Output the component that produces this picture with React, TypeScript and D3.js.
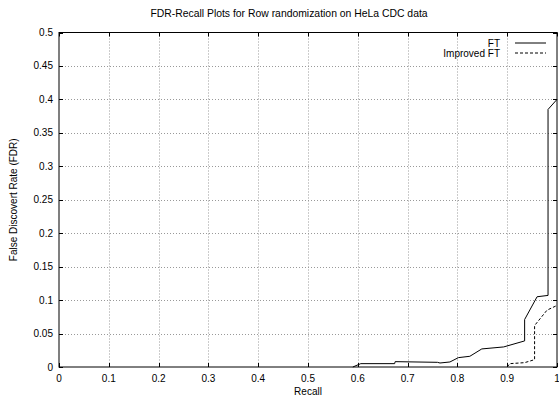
import React from "react";
import * as d3 from "d3";

const title = "FDR-Recall Plots for Row randomization on HeLa CDC data";
const xLabel = "Recall";
const yLabel = "False Discovert Rate (FDR)";

const xTicks = [0, 0.1, 0.2, 0.3, 0.4, 0.5, 0.6, 0.7, 0.8, 0.9, 1];
const xTickLabels = ["0", "0.1", "0.2", "0.3", "0.4", "0.5", "0.6", "0.7", "0.8", "0.9", "1"];
const yTicks = [0, 0.05, 0.1, 0.15, 0.2, 0.25, 0.3, 0.35, 0.4, 0.45, 0.5];
const yTickLabels = ["0", "0.05", "0.1", "0.15", "0.2", "0.25", "0.3", "0.35", "0.4", "0.45", "0.5"];

const ftRecall = [0.59, 0.601, 0.606, 0.674, 0.675, 0.76, 0.765, 0.785, 0.802, 0.825, 0.849, 0.893, 0.935, 0.935, 0.96, 0.982, 0.982, 1.0];
const ftFdr = [0, 0.0035, 0.005, 0.005, 0.008, 0.007, 0.006, 0.0075, 0.014, 0.016, 0.027, 0.03, 0.039, 0.071, 0.105, 0.107, 0.385, 0.4];

const impRecall = [0.9, 0.905, 0.935, 0.955, 0.955, 0.98, 1.0];
const impFdr = [0, 0.005, 0.0065, 0.011, 0.062, 0.085, 0.092];

const seriesNames = ["FT", "Improved FT"];

const W = 559;
const H = 402;
const left = 59;
const right = 557;
const top = 32.5;
const bottom = 367;
const font = "'Liberation Sans', Arial, Helvetica, sans-serif";

export default function App() {
  const x = d3.scaleLinear().domain([0, 1]).range([left, right]);
  const y = d3.scaleLinear().domain([0, 0.5]).range([bottom, top]);
  const line = d3
    .line<[number, number]>()
    .x((d) => x(d[0]))
    .y((d) => y(d[1]));
  const ftPts = ftRecall.map((r, i) => [r, ftFdr[i]] as [number, number]);
  const impPts = impRecall.map((r, i) => [r, impFdr[i]] as [number, number]);
  const tickLen = 4;

  return (
    <svg
      width={W}
      height={H}
      style={{ position: "absolute", left: 0, top: 0, background: "#fff" }}
      fontFamily={font}
    >
      <rect x={0} y={0} width={W} height={H} fill="#fff" />
      {/* grid */}
      <g stroke="#999" strokeWidth={1} strokeDasharray="1,2" fill="none">
        {xTicks.slice(1, -1).map((t) => (
          <line key={"gx" + t} x1={Math.round(x(t)) + 0.5} x2={Math.round(x(t)) + 0.5} y1={top} y2={bottom} />
        ))}
        {yTicks.slice(1, -1).map((t) => (
          <line key={"gy" + t} x1={left} x2={right} y1={Math.round(y(t)) + 0.5} y2={Math.round(y(t)) + 0.5} />
        ))}
      </g>
      {/* ticks */}
      <g stroke="#000" strokeWidth={1}>
        {xTicks.map((t) => (
          <g key={"tx" + t}>
            <line x1={Math.round(x(t)) + 0.5} x2={Math.round(x(t)) + 0.5} y1={bottom} y2={bottom - tickLen} />
            <line x1={Math.round(x(t)) + 0.5} x2={Math.round(x(t)) + 0.5} y1={top} y2={top + tickLen} />
          </g>
        ))}
        {yTicks.map((t) => (
          <g key={"ty" + t}>
            <line x1={left} x2={left + tickLen} y1={Math.round(y(t)) + 0.5} y2={Math.round(y(t)) + 0.5} />
            <line x1={right} x2={right - tickLen} y1={Math.round(y(t)) + 0.5} y2={Math.round(y(t)) + 0.5} />
          </g>
        ))}
      </g>
      {/* tick labels */}
      <g fontSize={10} fill="#000">
        {xTicks.map((t, i) => (
          <text key={"lx" + t} x={x(t)} y={bottom + 15} textAnchor="middle">
            {xTickLabels[i]}
          </text>
        ))}
        {yTicks.map((t, i) => (
          <text key={"ly" + t} x={left - 6} y={y(t) + 3.5} textAnchor="end">
            {yTickLabels[i]}
          </text>
        ))}
      </g>
      {/* curves */}
      <path d={line(ftPts) || ""} fill="none" stroke="#000" strokeWidth={1} />
      <path d={line(impPts) || ""} fill="none" stroke="#000" strokeWidth={1} strokeDasharray="3,2" />
      {/* border */}
      <rect x={left} y={top} width={right - left} height={bottom - top} fill="none" stroke="#000" strokeWidth={1} />
      {/* legend */}
      <g fontSize={10} fill="#000">
        <text x={500} y={46.5} textAnchor="end">{seriesNames[0]}</text>
        <line x1={515} x2={546} y1={43} y2={43} stroke="#000" strokeWidth={1} />
        <text x={500} y={56.5} textAnchor="end">{seriesNames[1]}</text>
        <line x1={515} x2={546} y1={53} y2={53} stroke="#000" strokeWidth={1} strokeDasharray="3,2" />
      </g>
      {/* titles */}
      <text x={289} y={17} textAnchor="middle" fontSize={10.4} fill="#000">{title}</text>
      <text x={(left + right) / 2} y={395} textAnchor="middle" fontSize={10} fill="#000">{xLabel}</text>
      <text
        transform={`translate(17,${(top + bottom) / 2}) rotate(-90)`}
        textAnchor="middle"
        fontSize={10}
        fill="#000"
      >
        {yLabel}
      </text>
    </svg>
  );
}
